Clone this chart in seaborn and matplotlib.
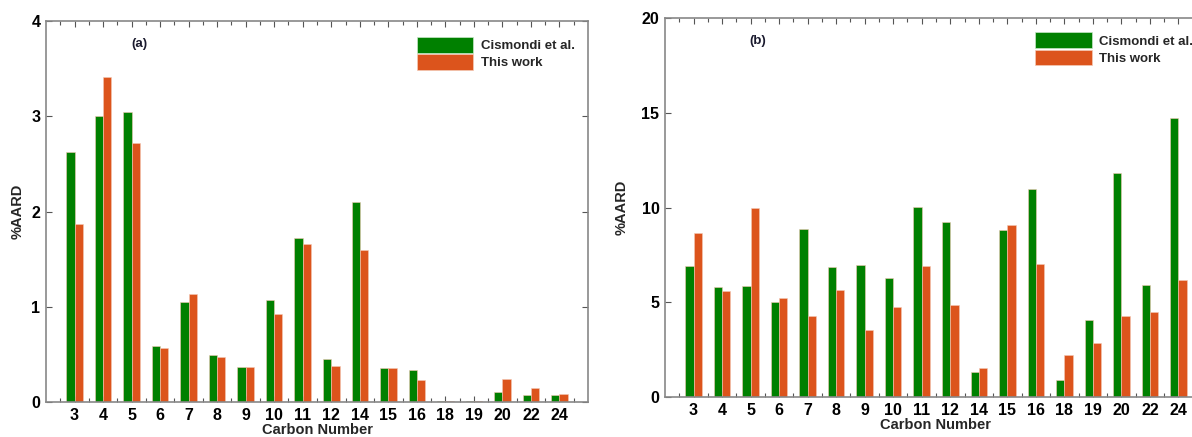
import numpy as np
import pandas as pd
import matplotlib
matplotlib.use("Agg")
import matplotlib.pyplot as plt
import seaborn as sns
from matplotlib.ticker import MultipleLocator, FixedLocator
from matplotlib.patches import Patch

# ---- data ----
carbon = ["3", "4", "5", "6", "7", "8", "9", "10", "11", "12",
          "14", "15", "16", "18", "19", "20", "22", "24"]
series_names = ["Cismondi et al.", "This work"]

a_cismondi = [2.62, 3.00, 3.04, 0.585, 1.05, 0.49, 0.367, 1.07, 1.72, 0.45,
              2.10, 0.354, 0.336, 0.015, 0.015, 0.105, 0.073, 0.073]
a_thiswork = [1.87, 3.41, 2.72, 0.567, 1.13, 0.476, 0.367, 0.92, 1.656, 0.375,
              1.596, 0.354, 0.231, 0.015, 0.015, 0.238, 0.144, 0.084]

b_cismondi = [6.92, 5.79, 5.85, 5.02, 8.89, 6.87, 6.99, 6.30, 10.04, 9.23,
              1.30, 8.80, 10.97, 0.88, 4.08, 11.81, 5.93, 14.72]
b_thiswork = [8.64, 5.60, 10.0, 5.25, 4.30, 5.63, 3.56, 4.75, 6.92, 4.88,
              1.55, 9.10, 7.04, 2.20, 2.87, 4.26, 4.47, 6.18]

panel_labels = ["(a)", "(b)"]
y_max = [4, 20]
y_step = [1, 5]

GREEN = "#008000"
ORANGE = "#DC541C"

def long_df(c, t):
    return pd.DataFrame({
        "Carbon": carbon * 2,
        "AARD": list(c) + list(t),
        "Source": [series_names[0]] * len(carbon) + [series_names[1]] * len(carbon),
    })

sns.set_theme(style="white")
plt.rcParams["font.family"] = ["Liberation Sans", "DejaVu Sans"]
plt.rcParams["font.weight"] = "bold"

fig = plt.figure(figsize=(11.92, 4.37), dpi=100)
positions = [
    [46 / 1192, 1 - 402 / 437, 542 / 1192, 381 / 437],
    [665 / 1192, 1 - 397 / 437, 542 / 1192, 379 / 437],
]
datasets = [(a_cismondi, a_thiswork), (b_cismondi, b_thiswork)]
legend_anchor = [(0.684, 0.958), (0.683, 0.962)]
ylabel_pad = [5, 9]

for i in range(2):
    ax = fig.add_axes(positions[i])
    df = long_df(*datasets[i])
    sns.barplot(data=df, x="Carbon", y="AARD", hue="Source", order=carbon,
                hue_order=series_names, palette=[GREEN, ORANGE],
                width=0.58, ax=ax, saturation=1, legend=False,
                edgecolor="#f3c9b5", linewidth=0.4)
    ax.set_xlim(-1, len(carbon))
    ax.set_ylim(0, y_max[i])
    ax.yaxis.set_major_locator(MultipleLocator(y_step[i]))
    ax.xaxis.set_minor_locator(FixedLocator(np.arange(-0.5, len(carbon), 1.0)))
    ax.tick_params(axis="both", which="both", direction="in", top=True,
                   right=True, bottom=True, left=True, color="#555555",
                   width=0.8)
    ax.tick_params(axis="both", which="major", length=4, labelsize=11.5,
                   pad=4)
    ax.tick_params(axis="x", which="minor", length=3)
    for lab in ax.get_xticklabels() + ax.get_yticklabels():
        lab.set_fontweight("bold")
        lab.set_color("black")
    for sp in ax.spines.values():
        sp.set_color("#888888")
        sp.set_linewidth(1.2)
    ax.set_xlabel("Carbon Number", fontsize=10.5, fontweight="bold",
                  labelpad=0)
    ax.set_ylabel("%AARD", fontsize=10.5, fontweight="bold",
                  labelpad=ylabel_pad[i])
    ax.text(0.172, 0.94, panel_labels[i], transform=ax.transAxes,
            ha="center", va="center", fontsize=9.5, fontweight="bold",
            color="#1a1a2e")
    handles = [Patch(facecolor=GREEN, edgecolor="#c8e6c8", linewidth=0.5),
               Patch(facecolor=ORANGE, edgecolor="#f3c9b5", linewidth=0.5)]
    ax.legend(handles, series_names, loc="upper left",
              bbox_to_anchor=legend_anchor[i], frameon=False,
              prop={"size": 9.5, "weight": "bold"}, handlelength=4.3,
              handleheight=1.45, labelspacing=0.12, handletextpad=0.55,
              borderaxespad=0, borderpad=0)

fig.savefig("out.png", dpi=100)
